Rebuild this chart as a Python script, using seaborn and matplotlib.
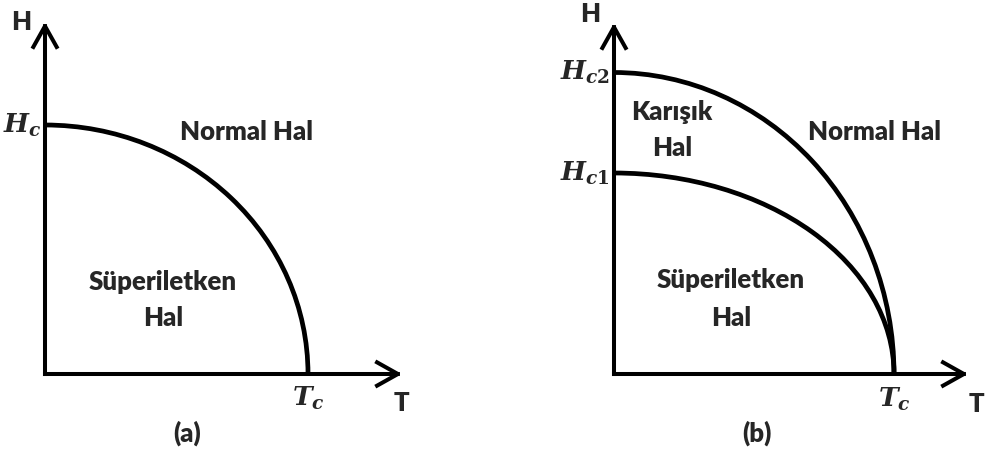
import matplotlib
matplotlib.use("Agg")
import matplotlib.pyplot as plt
from matplotlib.patches import Arc
import seaborn as sns

sns.set_style("white")
plt.rcParams["font.family"] = ["Lato", "DejaVu Sans"]
plt.rcParams["mathtext.fontset"] = "custom"
plt.rcParams["mathtext.it"] = "DejaVu Serif:italic:bold"
plt.rcParams["mathtext.rm"] = "DejaVu Serif:bold"

# Critical values (reduced units)
tc_a = 1.0
hc_a = 1.0
tc_b = 1.0
hc1_b = 1.0
hc2_b = 1.5

# Region labels: (text, T, H)
labels_a = [("Normal Hal", 0.768, 0.972),
            ("Süperiletken", 0.449, 0.369),
            ("Hal", 0.449, 0.225)]
labels_b = [("Karışık", 0.207, 1.303),
            ("Hal", 0.207, 1.124),
            ("Normal Hal", 0.932, 1.204),
            ("Süperiletken", 0.418, 0.468),
            ("Hal", 0.418, 0.279)]

W, H = 989, 459
fig = plt.figure(figsize=(W / 100, H / 100), dpi=100)
fig.patch.set_facecolor("white")

LW_AX = 2.9
LW_CURVE = 3.4
TXT = 18.5
WT = "heavy"
MATH = 19


def make_axes(x0, y0, x1, y1, xmax, ymax):
    ax = fig.add_axes([x0 / W, (H - y0) / H, (x1 - x0) / W, (y0 - y1) / H])
    ax.set_xlim(0, xmax)
    ax.set_ylim(0, ymax)
    ax.axis("off")
    arrow = dict(arrowstyle="->,head_length=0.75,head_width=0.42",
                 lw=LW_AX, color="black", mutation_scale=20,
                 shrinkA=0, shrinkB=0, capstyle="projecting")
    ax.annotate("", xy=(xmax, 0), xytext=(0, 0), arrowprops=arrow,
                annotation_clip=False)
    ax.annotate("", xy=(0, ymax), xytext=(0, 0), arrowprops=arrow,
                annotation_clip=False)
    return ax


def boundary(ax, tc, hc):
    ax.add_patch(Arc((0, 0), 2 * tc, 2 * hc, theta1=0, theta2=90,
                     lw=LW_CURVE, color="black", clip_on=False))


def label(ax, x, y, s):
    ax.text(x, y, s, ha="center", va="center", fontsize=TXT, fontweight=WT)


# (a) type-I superconductor
ax1 = make_axes(45, 374, 402, 22, 357 / 263, 352 / 249)
boundary(ax1, tc_a, hc_a)
for t, x, y in labels_a:
    label(ax1, x, y, t)
ax1.text(-0.015, hc_a, r"$H_c$", ha="right", va="center", fontsize=MATH)
ax1.text(tc_a, -0.045, r"$T_c$", ha="center", va="top", fontsize=MATH)
label(ax1, -0.091, 1.415, "H")
label(ax1, 1.354, -0.116, "T")
label(ax1, 0.54, -0.237, "(a)")

# (b) type-II superconductor
ax2 = make_axes(614, 374, 968, 23, 354 / 280, 351 / 201)
boundary(ax2, tc_b, hc1_b)
boundary(ax2, tc_b, hc2_b)
for t, x, y in labels_b:
    label(ax2, x, y, t)
ax2.text(-0.015, hc2_b, r"$H_{c2}$", ha="right", va="center", fontsize=MATH)
ax2.text(-0.015, hc1_b, r"$H_{c1}$", ha="right", va="center", fontsize=MATH)
ax2.text(tc_b, -0.06, r"$T_c$", ha="center", va="top", fontsize=MATH)
label(ax2, -0.086, 1.79, "H")
label(ax2, 1.296, -0.149, "T")
label(ax2, 0.511, -0.294, "(b)")

fig.savefig("out.png", dpi=100, facecolor="white")
